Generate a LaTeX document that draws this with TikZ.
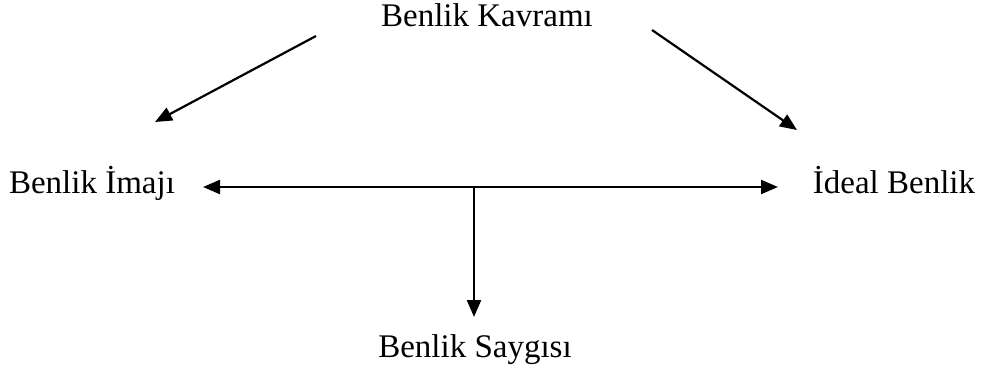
\documentclass[tikz,border=0pt]{standalone}
\usepackage{fontspec}
\setmainfont{Liberation Serif}
\usetikzlibrary{arrows.meta}
\begin{document}
\begin{tikzpicture}[x=1pt,y=-1pt,
  lbl/.style={inner sep=0pt,anchor=base,font=\fontsize{33}{38}\selectfont},
  conn/.style={line width=2.2pt,-{Triangle[length=17pt,width=14pt]}},
  conn2/.style={line width=2.2pt,{Triangle[length=17pt,width=14pt]}-{Triangle[length=17pt,width=14pt]}}]
\useasboundingbox (0,0) rectangle (983,372);
\node[lbl] (kav) at (487,27) {Benlik Kavramı};
\node[lbl] (ima) at (92,193) {Benlik İmajı};
\node[lbl] (ide) at (894,193) {İdeal Benlik};
\node[lbl] (say) at (475,357) {Benlik Saygısı};
\coordinate (k1) at (316,36);
\coordinate (i1) at (155,122);
\coordinate (k2) at (652,30);
\coordinate (d1) at (797,130);
\coordinate (hl) at (203,187);
\coordinate (hr) at (778,187);
\coordinate (hm) at (474,187);
\coordinate (s1) at (474,317);
\draw[conn] (k1) -- (i1);
\draw[conn] (k2) -- (d1);
\draw[conn2] (hl) -- (hr);
\draw[conn] (hm) -- (s1);
\end{tikzpicture}
\end{document}
